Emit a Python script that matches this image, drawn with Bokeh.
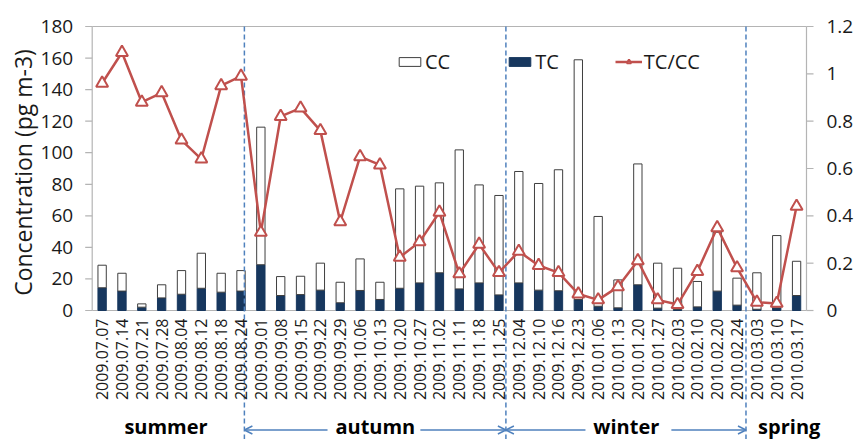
import numpy as np
from bokeh.plotting import figure
from bokeh.models import (Range1d, ColumnDataSource, Legend, LegendItem,
                          Arrow, OpenHead, Label)
from bokeh.core.properties import value
from bokeh.embed import file_html
from bokeh.resources import INLINE

# ---------------- data ----------------
dates = ["2009.07.07", "2009.07.14", "2009.07.21", "2009.07.28", "2009.08.04", "2009.08.12",
         "2009.08.18", "2009.08.24", "2009.09.01", "2009.09.08", "2009.09.15", "2009.09.22",
         "2009.09.29", "2009.10.06", "2009.10.13", "2009.10.20", "2009.10.27", "2009.11.02",
         "2009.11.11", "2009.11.18", "2009.11.25", "2009.12.04", "2009.12.10", "2009.12.16",
         "2009.12.23", "2010.01.06", "2010.01.13", "2010.01.20", "2010.01.27", "2010.02.03",
         "2010.02.10", "2010.02.20", "2010.02.24", "2010.03.03", "2010.03.10", "2010.03.17"]
tc = [14.4, 12.3, 2.1, 8.0, 10.3, 14.1, 11.6, 12.3, 29.0, 9.5, 10.1, 12.9,
      4.9, 12.7, 7.0, 14.1, 17.5, 23.9, 13.7, 17.5, 9.9, 17.5, 12.9, 12.5,
      7.0, 2.7, 1.7, 16.3, 1.5, 0.6, 2.3, 12.3, 3.4, 0.8, 1.7, 9.5]
cc = [14.3, 11.3, 2.1, 8.3, 15.0, 22.2, 12.0, 13.0, 87.2, 12.0, 11.6, 17.1,
      13.0, 20.0, 10.9, 63.0, 61.3, 57.0, 88.1, 62.1, 63.0, 70.6, 67.6, 76.7,
      151.9, 56.9, 17.7, 76.6, 28.5, 26.2, 16.1, 37.3, 17.1, 23.1, 45.8, 21.7]
ratio = [0.96, 1.09, 0.88, 0.92, 0.72, 0.64, 0.95, 0.99, 0.33, 0.82, 0.855, 0.76,
         0.375, 0.65, 0.615, 0.225, 0.29, 0.415, 0.155, 0.28, 0.16, 0.25, 0.19, 0.16,
         0.07, 0.045, 0.10, 0.21, 0.045, 0.025, 0.165, 0.35, 0.18, 0.035, 0.03, 0.44]
y_ticks = [0, 20, 40, 60, 80, 100, 120, 140, 160, 180]
y_tick_labels = ["0", "20", "40", "60", "80", "100", "120", "140", "160", "180"]
r_ticks = [0, 0.2, 0.4, 0.6, 0.8, 1.0, 1.2]
r_tick_labels = ["0", "0.2", "0.4", "0.6", "0.8", "1", "1.2"]
y_title = "Concentration (pg m-3)"
seasons = ["summer", "autumn", "winter", "spring"]
season_bounds = [7.67, 20.85, 32.95]   # boundaries in sample-index units

# ---------------- layout ----------------
# The frame covers the whole canvas; axes are drawn with glyphs.
FONT = "Open Sans"
W, H = 855, 439
X0, Y0 = 91.7, 310.0      # canvas position of the origin
PX = 284 / 180.0          # px per concentration unit
RPX = 284 / 1.2           # px per ratio unit
XPX = 714.3 / 36          # px per sample slot
n = len(dates)
x = np.arange(n) + 0.5

src = ColumnDataSource(dict(x=x, tc=tc, cc=cc, ratio=ratio, date=dates))

p = figure(width=W, height=H, output_backend="svg", toolbar_location=None,
           x_range=Range1d(-X0 / XPX, (W - X0) / XPX),
           y_range=Range1d(-(H - Y0) / PX, Y0 / PX),
           x_axis_location=None, y_axis_location=None,
           min_border_left=0, min_border_right=0, min_border_top=0, min_border_bottom=0,
           outline_line_color=None)
p.grid.visible = False
p.extra_y_ranges = {"ratio": Range1d(-(H - Y0) / RPX, Y0 / RPX)}

AX = "#b4b4b4"
TXT = "#1a1a1a"
top = y_ticks[-1]

# axis lines and top border
p.segment(x0=[0, n, 0, 0], y0=[0, 0, 0, top], x1=[0, n, n, n], y1=[top, top, 0, top],
          line_color=AX, line_width=1.2)

# left axis: ticks, labels, title
p.segment(x0=-7 / XPX, x1=0, y0=y_ticks, y1=y_ticks, line_color=AX, line_width=1.2)
p.text(x=-19 / XPX, y=y_ticks, text=y_tick_labels, text_align="right",
       text_baseline="middle", text_font=value(FONT), text_font_size="19px",
       text_color=TXT)
p.text(x=(22.5 - X0) / XPX, y=(Y0 - 172) / PX, text=[y_title], angle=np.pi / 2,
       text_align="center", text_baseline="middle", text_font=value(FONT),
       text_font_size="23px", text_color=TXT)

# right (ratio) axis: ticks and labels
p.segment(x0=n, x1=n + 7 / XPX, y0=r_ticks, y1=r_ticks, y_range_name="ratio",
          line_color=AX, line_width=1.2)
p.text(x=n + 20 / XPX, y=r_ticks, text=r_tick_labels, y_range_name="ratio",
       text_align="left", text_baseline="middle", text_font=value(FONT),
       text_font_size="19px", text_color=TXT)

# stacked bars
rs = p.vbar_stack(["tc", "cc"], x="x", width=0.42, source=src,
                  fill_color=["#17375e", "white"], line_color=["#17375e", "#3f3f3f"],
                  line_width=1)

# season dividers
p.segment(x0=season_bounds, x1=season_bounds, y0=top, y1=-(H - Y0) / PX,
          line_color="#4f81bd", line_width=1.5, line_dash="5 3")

# ratio line
rl = p.line(x="x", y="ratio", source=src, y_range_name="ratio",
            line_color="#c0504d", line_width=2.5)
rm = p.scatter(x="x", y="ratio", source=src, y_range_name="ratio", marker="triangle",
               size=12, fill_color="white", line_color="#c0504d", line_width=2)

# date labels
p.text(x="x", y=-8 / PX, text="date", source=src, angle=np.pi / 2,
       text_align="right", text_baseline="middle", text_font=value(FONT),
       text_font_size="16px", text_color=TXT)

# season labels and arrows
season_x = [3.72, 14.27, 26.92, 35.13]
season_y = -116 / PX
for sx, st in zip(season_x, seasons):
    p.add_layout(Label(x=sx, y=season_y, text=st, text_align="center",
                       text_baseline="middle", text_font=FONT, text_font_size="20px",
                       text_font_style="bold", text_color="black"))
arrow_y = -119.5 / PX
for xs, xe in [(11.86, season_bounds[0]), (16.54, season_bounds[1]),
               (24.86, season_bounds[1]), (29.19, season_bounds[2])]:
    p.add_layout(Arrow(x_start=xs, y_start=arrow_y, x_end=xe, y_end=arrow_y,
                       line_color="#4f81bd", line_width=1.5,
                       end=OpenHead(size=8, line_color="#4f81bd", line_width=1.5)))

legend = Legend(items=[LegendItem(label="CC", renderers=[rs[1]]),
                       LegendItem(label="TC", renderers=[rs[0]]),
                       LegendItem(label="TC/CC", renderers=[rl, rm])],
                orientation="horizontal", location=(396, 364), glyph_width=27,
                glyph_height=11, label_standoff=2, spacing=56, padding=0, margin=0,
                border_line_color=None, background_fill_alpha=0,
                label_text_font=FONT, label_text_font_size="20px", label_text_color=TXT)
p.add_layout(legend)

open("out.html", "w").write(file_html(p, INLINE))
